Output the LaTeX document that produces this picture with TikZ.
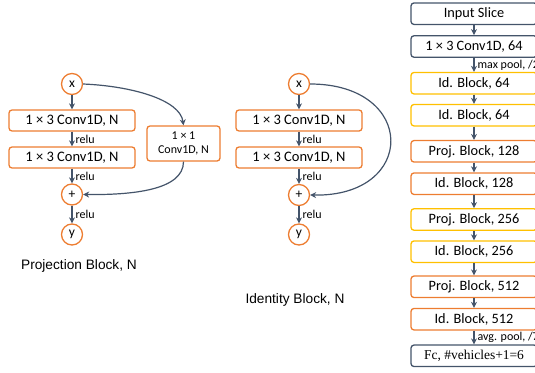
\documentclass[tikz,border=0pt]{standalone}
\usepackage{fontspec}
\setmainfont{Carlito}
\newfontfamily\capfont{Liberation Sans}
\newfontfamily\serfont{Liberation Serif}
\usetikzlibrary{arrows.meta}

\definecolor{boxorange}{HTML}{ED7D31}
\definecolor{boxyellow}{HTML}{FFC000}
\definecolor{slate}{HTML}{44546A}

\begin{document}
\begin{tikzpicture}[x=1pt,y=-1pt,
  conv/.style={draw=boxorange, line width=1.3pt, rounded corners=3pt,
    minimum width=126pt, minimum height=21pt, inner sep=0pt,
    font=\fontsize{14.5}{15}\selectfont},
  op/.style={circle, draw=boxorange, line width=1.3pt, minimum size=21pt,
    inner sep=0pt, font=\fontsize{13.5}{14}\selectfont},
  flow/.style={-{Stealth[length=6pt,width=6pt]}, draw=slate, line width=1.2pt},
  lab/.style={font=\fontsize{12}{13}\selectfont, anchor=west, inner sep=0pt, xshift=3pt},
  layer/.style={draw=#1, line width=1.3pt, rounded corners=3pt,
    minimum width=126pt, minimum height=21.5pt, inner sep=0pt,
    font=\fontsize{14.3}{15}\selectfont},
  caption/.style={font=\capfont\fontsize{13.7}{14}\selectfont},
]
\path[use as bounding box, clip] (0,0) rectangle (535,372);

% ---------------- projection block ----------------
\node[op]   (px)    at (72,84)    {x};
\node[conv] (pc1)   at (72,120.5) {1 × 3 Conv1D, N};
\node[conv] (pc2)   at (72,157.5) {1 × 3 Conv1D, N};
\node[op]   (pplus) at (72,194.5) {+};
\node[op]   (py)    at (72,234.5) {y};
\node[draw=boxorange, line width=1.3pt, rounded corners=3pt,
      minimum width=73pt, minimum height=35pt, inner sep=0pt, align=center,
      font=\fontsize{12}{14}\selectfont] (pc3) at (183.5,143.5) {1 × 1\\Conv1D, N};

\draw[flow] (px) -- (pc1);
\draw[flow] (pc1) -- node[lab]{relu} (pc2);
\draw[flow] (pc2) -- node[lab]{relu} (pplus);
\draw[flow] (pplus) -- node[lab]{relu} (py);
\draw[flow] (px.east) .. controls +(47.5,2) and +(-3.5,-26) .. (pc3.north);
\draw[flow] (pc3.south) .. controls +(0,29) and +(47.5,0.5) .. (pplus.east);

\node[caption] (pcap) at (79,266) {Projection Block, N};

% ---------------- identity block ----------------
\node[op]   (ix)    at (299,84)    {x};
\node[conv] (ic1)   at (299,120.5) {1 × 3 Conv1D, N};
\node[conv] (ic2)   at (299,157.5) {1 × 3 Conv1D, N};
\node[op]   (iplus) at (299,195)   {+};
\node[op]   (iy)    at (299,234.5) {y};

\draw[flow] (ix) -- (ic1);
\draw[flow] (ic1) -- node[lab]{relu} (ic2);
\draw[flow] (ic2) -- node[lab]{relu} (iplus);
\draw[flow] (iplus) -- node[lab]{relu} (iy);
\draw[flow] (ix.east) .. controls +(107,0) and +(107,2) .. (iplus.east);

\node[caption] (icap) at (295,300) {Identity Block, N};

% ---------------- full network ----------------
\node[layer=slate]      (n0)  at (474,13.7)  {Input Slice};
\node[layer=slate]      (n1)  at (474,46.5)  {1 × 3 Conv1D, 64};
\node[layer=boxyellow]  (n2)  at (474,83.2)  {Id. Block, 64};
\node[layer=boxyellow]  (n3)  at (474,115.2) {Id. Block, 64};
\node[layer=boxorange]  (n4)  at (474,151.3) {Proj. Block, 128};
\node[layer=boxorange]  (n5)  at (474,183.7) {Id. Block, 128};
\node[layer=boxyellow]  (n6)  at (474,219.5) {Proj. Block, 256};
\node[layer=boxyellow]  (n7)  at (474,251.7) {Id. Block, 256};
\node[layer=boxorange]  (n8)  at (474,286.8) {Proj. Block, 512};
\node[layer=boxorange]  (n9)  at (474,319.2) {Id. Block, 512};
\node[layer=slate, font=\serfont\fontsize{13.5}{14}\selectfont]
                        (n10) at (474,355.8) {Fc, \#vehicles+1=6};

\draw[flow] (n0) -- (n1);
\draw[flow] (n1) -- node[lab]{max pool, /2} (n2);
\draw[flow] (n2) -- (n3);
\draw[flow] (n3) -- (n4);
\draw[flow] (n4) -- (n5);
\draw[flow] (n5) -- (n6);
\draw[flow] (n6) -- (n7);
\draw[flow] (n7) -- (n8);
\draw[flow] (n8) -- (n9);
\draw[flow] (n9) -- node[lab]{avg. pool, /7} (n10);
\end{tikzpicture}
\end{document}
